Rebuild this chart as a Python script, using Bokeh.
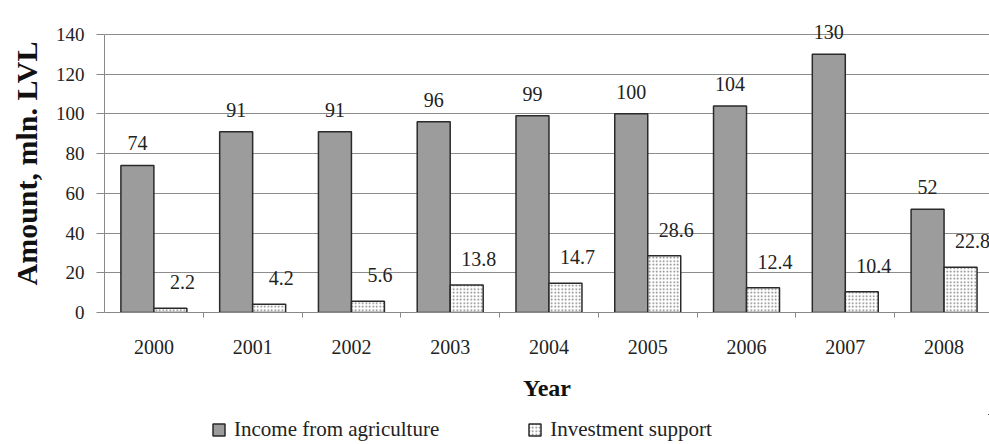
import numpy as np
from bokeh.plotting import figure
from bokeh.layouts import column
from bokeh.models import Range1d, FixedTicker, Legend, LegendItem, ColumnDataSource
from bokeh.core.properties import value
from bokeh.embed import file_html
from bokeh.resources import INLINE

years = ["2000", "2001", "2002", "2003", "2004", "2005", "2006", "2007", "2008"]
income = [74, 91, 91, 96, 99, 100, 104, 130, 52]
investment = [2.2, 4.2, 5.6, 13.8, 14.7, 28.6, 12.4, 10.4, 22.8]
income_labels = ["74", "91", "91", "96", "99", "100", "104", "130", "52"]
investment_labels = ["2.2", "4.2", "5.6", "13.8", "14.7", "28.6", "12.4", "10.4", "22.8"]
series_names = ["Income from agriculture", "Investment support"]
y_ticks = [0, 20, 40, 60, 80, 100, 120, 140]

SERIF = "Liberation Serif"
INCOME_STYLE = dict(fill_color="#9c9c9c", line_color="#2a2a2a", line_width=1.5)
INVEST_STYLE = dict(fill_color="white", line_color="#2a2a2a", line_width=1.5,
                    hatch_pattern="dot", hatch_color="#777777", hatch_scale=3.5,
                    hatch_weight=1)

n = len(years)
centers = np.arange(n) + 0.5
bw = 0.334

src = ColumnDataSource(dict(
    xi=centers - bw / 2, xv=centers + bw / 2,
    income=income, investment=investment,
    il=income_labels, vl=investment_labels,
))

p = figure(frame_width=885, frame_height=298, output_backend="svg", toolbar_location=None,
           x_range=Range1d(0, 8.96), y_range=Range1d(0, 150),
           min_border_left=104, min_border_right=0, min_border_top=14,
           min_border_bottom=102)
p.outline_line_color = None
p.background_fill_color = "white"

p.vbar(x="xi", top="income", width=bw, source=src, **INCOME_STYLE)
p.vbar(x="xv", top="investment", width=bw, source=src, **INVEST_STYLE)

p.text(x="xi", y="income", text="il", source=src, text_font=value(SERIF),
       text_font_size="20px", text_color="#222222", text_align="center",
       text_baseline="middle", y_offset=-22)
p.text(x="xv", y="investment", text="vl", source=src, text_font=value(SERIF),
       text_font_size="20px", text_color="#222222", text_align="center",
       text_baseline="middle", x_offset=12, y_offset=-26)

# axes
xt = FixedTicker(ticks=list(centers), minor_ticks=list(np.arange(1, n)))
p.xaxis.ticker = xt
p.xaxis.major_label_overrides = {float(c): y for c, y in zip(centers, years)}
p.xaxis.major_tick_out = 0
p.xaxis.major_tick_in = 0
p.xaxis.minor_tick_out = 5
p.xaxis.minor_tick_in = 0
p.xaxis.minor_tick_line_color = "#888888"
p.xaxis.axis_line_color = "#888888"
p.xaxis.major_label_standoff = 22
p.xaxis.major_label_text_font = SERIF
p.xaxis.major_label_text_font_size = "20px"
p.xaxis.major_label_text_color = "#222222"
p.xaxis.axis_label = "Year"
p.xaxis.axis_label_text_font = SERIF
p.xaxis.axis_label_text_font_style = "bold"
p.xaxis.axis_label_text_font_size = "24px"
p.xaxis.axis_label_text_color = "#111111"
p.xaxis.axis_label_standoff = 18

p.yaxis.ticker = FixedTicker(ticks=y_ticks)
p.yaxis.bounds = (0, 140)
p.yaxis.major_tick_out = 8
p.yaxis.major_tick_in = 0
p.yaxis.minor_tick_out = 0
p.yaxis.minor_tick_in = 0
p.yaxis.major_tick_line_color = "#888888"
p.yaxis.axis_line_color = "#888888"
p.yaxis.major_label_standoff = 12
p.yaxis.major_label_text_font = SERIF
p.yaxis.major_label_text_font_size = "19px"
p.yaxis.major_label_text_color = "#222222"
p.yaxis.axis_label = "Amount, mln. LVL"
p.yaxis.axis_label_text_font = SERIF
p.yaxis.axis_label_text_font_style = "bold"
p.yaxis.axis_label_text_font_size = "30px"
p.yaxis.axis_label_text_color = "#111111"
p.yaxis.axis_label_standoff = 10

p.xgrid.grid_line_color = None
p.ygrid.grid_line_color = "#8c8c8c"
p.ygrid.grid_line_width = 1

# legend strip below the chart (its bars lie far outside its visible ranges; only the keys show)
lg = figure(width=989, height=30, output_backend="svg", toolbar_location=None,
            x_range=Range1d(-100, -99), y_range=Range1d(-200, -199),
            x_axis_type=None, y_axis_type=None, min_border=0)
lg.outline_line_color = None
lg.grid.grid_line_color = None
k1 = lg.vbar(x="xi", top="income", width=bw, source=src, **INCOME_STYLE)
k2 = lg.vbar(x="xv", top="investment", width=bw, source=src, **INVEST_STYLE)
legend = Legend(items=[LegendItem(label=series_names[0], renderers=[k1]),
                       LegendItem(label=series_names[1], renderers=[k2])],
                orientation="horizontal", location=(107, 0), spacing=88,
                padding=0, margin=0, border_line_color=None,
                background_fill_alpha=0, glyph_width=15, glyph_height=15,
                label_height=30, label_standoff=8,
                label_text_font=SERIF, label_text_font_size="21px",
                label_text_color="#222222")
lg.add_layout(legend, "center")

layout = column(p, lg, spacing=0)
open("out.html", "w").write(file_html(layout, INLINE))
